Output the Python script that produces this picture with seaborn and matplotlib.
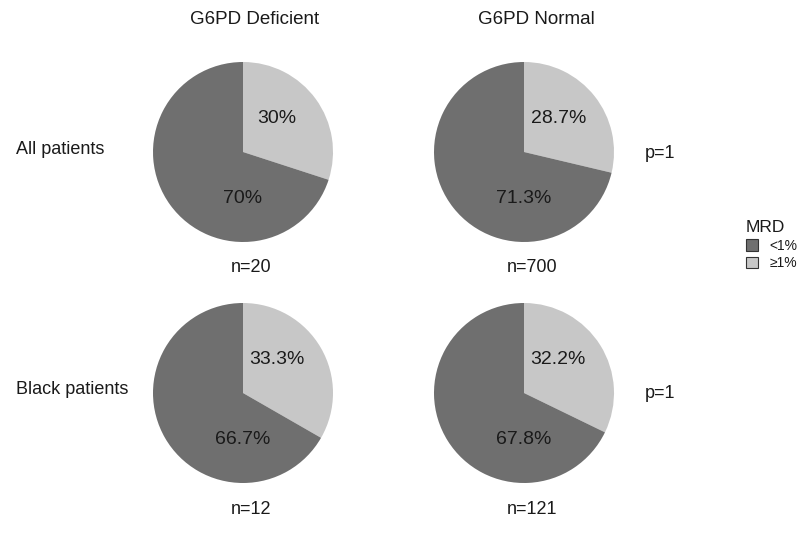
import matplotlib
matplotlib.use("Agg")
import matplotlib.pyplot as plt
from matplotlib.patches import Patch
import seaborn as sns

sns.set_theme(style="white")
plt.rcParams['font.family'] = ['Liberation Sans', 'DejaVu Sans']

# ---- data ----
groups = ["G6PD Deficient", "G6PD Normal"]
rows = ["All patients", "Black patients"]
mrd_levels = ["<1%", "\u22651%"]
pct_low = [[70.0, 71.3], [66.7, 67.8]]     # MRD <1%
pct_high = [[30.0, 28.7], [33.3, 32.2]]    # MRD >=1%
pct_low_labels = [["70%", "71.3%"], ["66.7%", "67.8%"]]
pct_high_labels = [["30%", "28.7%"], ["33.3%", "32.2%"]]
n_counts = [[20, 700], [12, 121]]
p_values = ["p=1", "p=1"]

# ---- style ----
dark = "#6f6f6f"
light = "#c7c7c7"
txt = "#1a1a1a"
W, H = 800, 545

fig = plt.figure(figsize=(8.0, 5.45), dpi=100)
fig.patch.set_facecolor("white")

centers_x = [243, 524]
centers_y = [152, 393]
R = 90

def fx(x):
    return x / W

def fy(y):
    return 1 - y / H

for i, row in enumerate(rows):
    for j, grp in enumerate(groups):
        cx, cy = centers_x[j], centers_y[i]
        ax = fig.add_axes([fx(cx - R), fy(cy + R), 2 * R / W, 2 * R / H])
        ax.pie([pct_high[i][j], pct_low[i][j]], colors=[light, dark],
               startangle=90, counterclock=False, radius=1,
               wedgeprops=dict(linewidth=0))
        ax.set_xlim(-1, 1)
        ax.set_ylim(-1, 1)
        ax.set_aspect("equal")
        ax.axis("off")
        ax.text(0.38, 0.37, pct_high_labels[i][j], ha="center", va="center",
                fontsize=14, color=txt)
        ax.text(0.0, -0.52, pct_low_labels[i][j], ha="center", va="center",
                fontsize=14, color=txt)
        # n label below pie
        fig.text(fx(cx + 8), fy(cy + 116), f"n={n_counts[i][j]}", ha="center",
                 va="center", fontsize=13, color=txt)

# column titles
for j, grp in enumerate(groups):
    fig.text(fx(centers_x[j] + 12), fy(20), grp, ha="center", va="center",
             fontsize=13.5, color=txt)

# row labels and p-values
for i, row in enumerate(rows):
    fig.text(fx(16), fy(centers_y[i] - 3), row, ha="left", va="center",
             fontsize=13, color=txt)
    fig.text(fx(645), fy(centers_y[i] + 1), p_values[i], ha="left", va="center",
             fontsize=13, color=txt)

# legend
handles = [Patch(facecolor=dark, edgecolor="#333333", linewidth=0.8),
           Patch(facecolor=light, edgecolor="#333333", linewidth=0.8)]
leg = fig.legend(handles, mrd_levels, title="MRD", loc="upper left",
                 bbox_to_anchor=(fx(733), fy(208)), frameon=False,
                 handlelength=0.9, handleheight=0.9, handletextpad=0.8,
                 labelspacing=0.25, fontsize=10, title_fontsize=12.5,
                 alignment="left")
for t in leg.get_texts():
    t.set_color(txt)
leg.get_title().set_color(txt)

fig.savefig("out.png", dpi=100, facecolor="white")
